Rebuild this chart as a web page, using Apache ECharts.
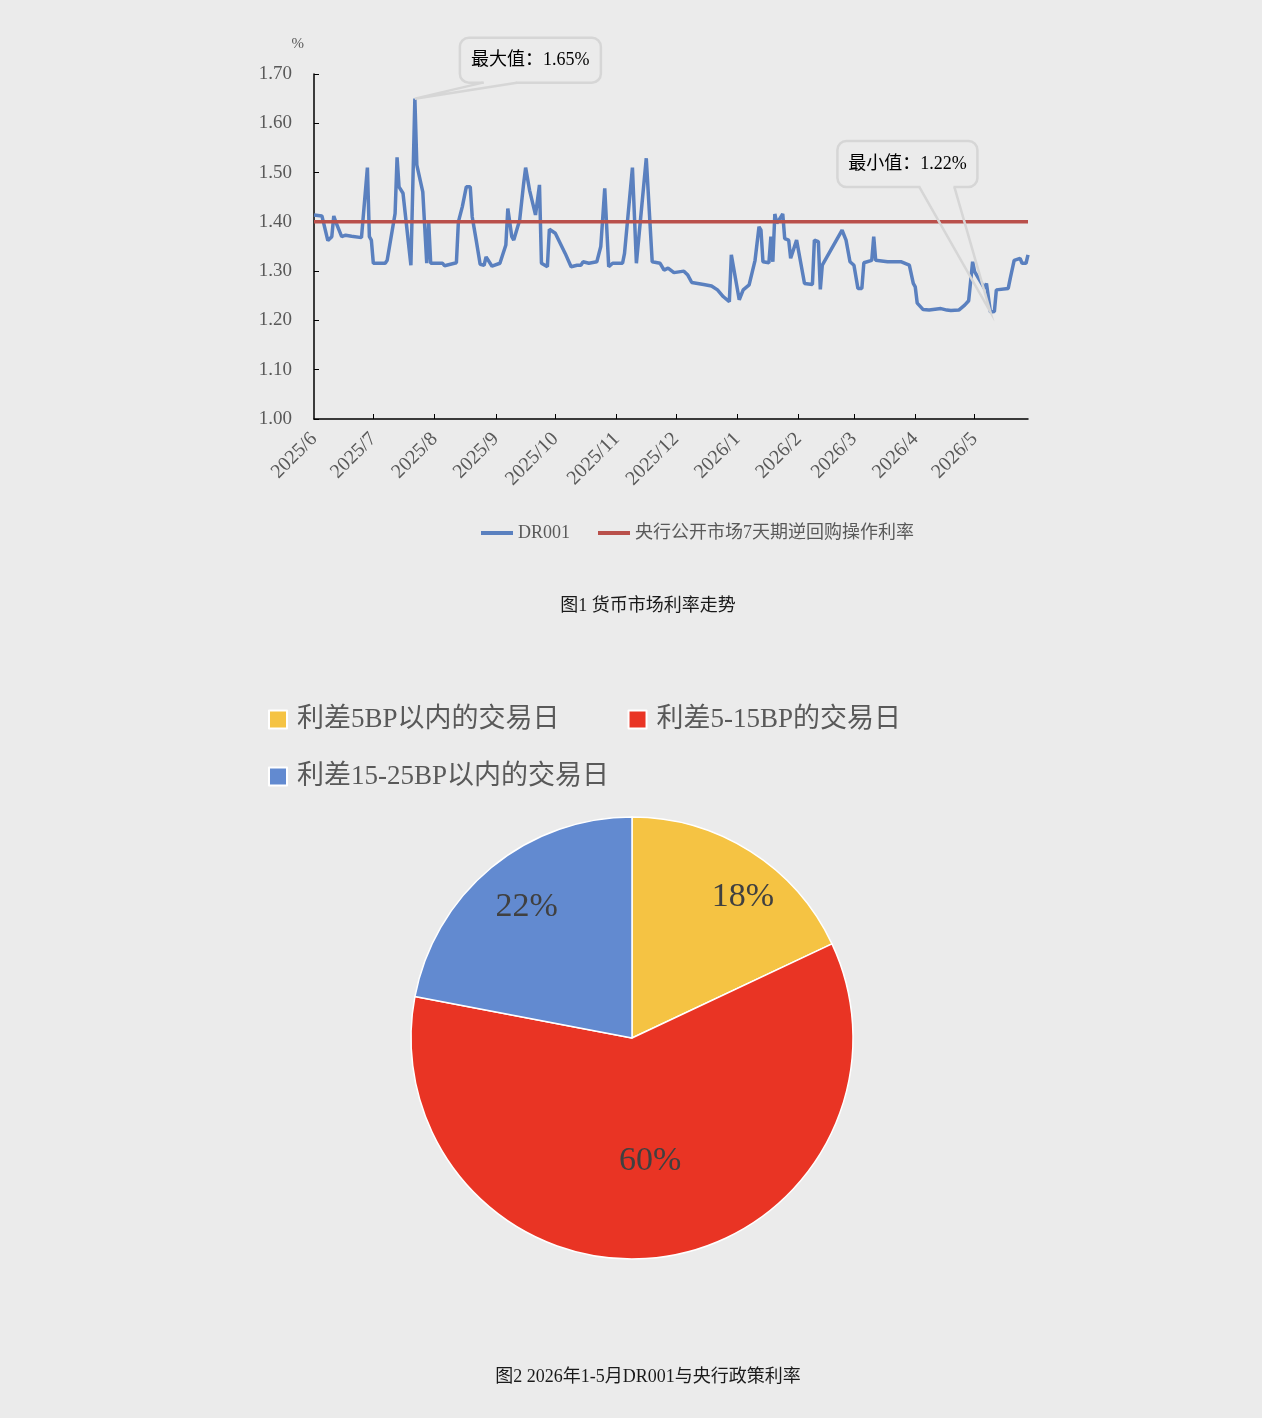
<!DOCTYPE html>
<html>
<head>
<meta charset="utf-8">
<script src="https://cdn.jsdelivr.net/npm/echarts@6/dist/echarts.min.js"></script>
<style>
  html, body { margin: 0; padding: 0; background: #ebebeb; }
  #main { width: 1262px; height: 1418px; }
</style>
</head>
<body>
<div id="main"></div>
<script>
// Fig.1: DR001 vs the 7-day reverse repo rate, Fig.2: spread share pie

const AXIS_START = '2025-06-01'
const AXIS_END = '2026-05-28'

// DR001 turning points (dates / %)
const drDates = [
  '2025-06-01', '2025-06-05', '2025-06-08', '2025-06-10', '2025-06-11', '2025-06-12', '2025-06-15', '2025-06-17',
  '2025-06-20', '2025-06-25', '2025-06-28', '2025-06-29', '2025-06-30', '2025-07-01', '2025-07-07', '2025-07-08',
  '2025-07-12', '2025-07-13', '2025-07-14', '2025-07-16', '2025-07-20', '2025-07-22', '2025-07-23', '2025-07-26',
  '2025-07-28', '2025-07-29', '2025-07-30', '2025-08-05', '2025-08-06', '2025-08-12', '2025-08-13', '2025-08-15',
  '2025-08-17', '2025-08-19', '2025-08-20', '2025-08-22', '2025-08-24', '2025-08-26', '2025-08-27', '2025-08-30',
  '2025-09-03', '2025-09-06', '2025-09-07', '2025-09-09', '2025-09-10', '2025-09-13', '2025-09-15', '2025-09-16',
  '2025-09-18', '2025-09-21', '2025-09-23', '2025-09-24', '2025-09-27', '2025-09-28', '2025-10-01', '2025-10-06',
  '2025-10-09', '2025-10-12', '2025-10-14', '2025-10-15', '2025-10-18', '2025-10-22', '2025-10-24', '2025-10-26',
  '2025-10-28', '2025-10-30', '2025-11-04', '2025-11-05', '2025-11-09', '2025-11-11', '2025-11-16', '2025-11-19',
  '2025-11-23', '2025-11-25', '2025-11-27', '2025-11-30', '2025-12-05', '2025-12-07', '2025-12-09', '2025-12-15',
  '2025-12-19', '2025-12-22', '2025-12-25', '2025-12-28', '2025-12-29', '2026-01-02', '2026-01-04', '2026-01-07',
  '2026-01-10', '2026-01-12', '2026-01-13', '2026-01-14', '2026-01-17', '2026-01-18', '2026-01-19', '2026-01-20',
  '2026-01-21', '2026-01-24', '2026-01-25', '2026-01-27', '2026-01-28', '2026-01-31', '2026-02-02', '2026-02-03',
  '2026-02-04', '2026-02-08', '2026-02-09', '2026-02-11', '2026-02-12', '2026-02-13', '2026-02-23', '2026-02-25',
  '2026-02-27', '2026-03-01', '2026-03-03', '2026-03-05', '2026-03-06', '2026-03-10', '2026-03-11', '2026-03-12',
  '2026-03-18', '2026-03-25', '2026-03-29', '2026-03-31', '2026-04-01', '2026-04-02', '2026-04-05', '2026-04-08',
  '2026-04-09', '2026-04-14', '2026-04-15', '2026-04-17', '2026-04-19', '2026-04-23', '2026-04-26', '2026-04-28',
  '2026-04-29', '2026-04-30', '2026-05-01', '2026-05-06', '2026-05-07', '2026-05-09', '2026-05-11', '2026-05-12',
  '2026-05-13', '2026-05-18', '2026-05-19', '2026-05-20', '2026-05-21', '2026-05-24', '2026-05-25', '2026-05-27',
  '2026-05-28'
]
const drValues = [
  1.414, 1.412, 1.362, 1.370, 1.412, 1.400, 1.370, 1.373,
  1.371, 1.368, 1.510, 1.370, 1.363, 1.316, 1.316, 1.322,
  1.417, 1.531, 1.471, 1.458, 1.312, 1.650, 1.515, 1.461,
  1.316, 1.400, 1.316, 1.316, 1.311, 1.317, 1.400, 1.431,
  1.471, 1.471, 1.410, 1.363, 1.314, 1.312, 1.329, 1.310,
  1.316, 1.353, 1.427, 1.370, 1.363, 1.404, 1.478, 1.510,
  1.464, 1.414, 1.475, 1.316, 1.309, 1.385, 1.377, 1.336,
  1.309, 1.312, 1.312, 1.319, 1.316, 1.319, 1.350, 1.468,
  1.309, 1.316, 1.316, 1.336, 1.510, 1.316, 1.529, 1.319,
  1.316, 1.302, 1.306, 1.297, 1.300, 1.292, 1.277, 1.273,
  1.270, 1.262, 1.248, 1.238, 1.333, 1.242, 1.262, 1.272,
  1.322, 1.390, 1.383, 1.319, 1.317, 1.370, 1.319, 1.416,
  1.397, 1.416, 1.366, 1.363, 1.326, 1.363, 1.319, 1.317,
  1.275, 1.273, 1.363, 1.360, 1.263, 1.312, 1.383, 1.363,
  1.319, 1.312, 1.265, 1.265, 1.317, 1.322, 1.370, 1.322,
  1.319, 1.319, 1.312, 1.275, 1.268, 1.235, 1.222, 1.221,
  1.224, 1.224, 1.221, 1.221, 1.220, 1.221, 1.231, 1.240,
  1.240, 1.319, 1.299, 1.265, 1.275, 1.217, 1.218, 1.262,
  1.265, 1.265, 1.285, 1.289, 1.322, 1.326, 1.316, 1.316,
  1.333
]

// policy rate held flat over the whole window
const repoDates = [AXIS_START, AXIS_END]
const repoValues = [1.40, 1.40]

const Y_MIN = 1.0
const Y_MAX = 1.7
const Y_STEP = 0.1

// pie
const pieNames = ['利差5BP以内的交易日', '利差5-15BP的交易日', '利差15-25BP以内的交易日']
const pieValues = [18, 60, 22]

const BG = '#ebebeb'
const LABEL = '#595959'
const SERIF = '"Liberation Serif", "Noto Sans CJK SC", serif'
const BLUE = '#5a80bf'
const RED = '#b9504b'
const PIE_COLORS = ['#f5c343', '#e93424', '#628ad0']
const CALLOUT_LINE = '#d6d6d6'

function dayList(start, end) {
  const out = []
  const d = new Date(start + 'T00:00:00Z')
  const e = new Date(end + 'T00:00:00Z')
  while (d <= e) {
    out.push(d.toISOString().slice(0, 10))
    d.setUTCDate(d.getUTCDate() + 1)
  }
  return out
}

const days = dayList(AXIS_START, AXIS_END)
const isMonthStart = (i, v) => v.slice(8) === '01' && i > 0

const pairs = (ds, vs) => ds.map((d, i) => [d, vs[i]])

const chart = echarts.init(document.getElementById('main'), null, { renderer: 'canvas' })

// per-slice label nudges, Excel puts them at different radii
const pieLabelOffset = [[50, -45], [4, 10], [-33, -43]]

chart.setOption({
  animation: false,
  backgroundColor: BG,
  textStyle: { fontFamily: SERIF },
  legend: [
    {
      data: ['DR001', '央行公开市场7天期逆回购操作利率'],
      left: 481,
      top: 524,
      padding: 0,
      icon: 'rect',
      itemWidth: 32,
      itemHeight: 4,
      itemGap: 28,
      textStyle: { color: LABEL, fontSize: 18, fontFamily: SERIF }
    },
    {
      data: pieNames.slice(0, 2),
      left: 268,
      top: 706,
      padding: 0,
      icon: 'rect',
      itemWidth: 18,
      itemHeight: 18,
      itemGap: 68,
      textStyle: { color: LABEL, fontSize: 27, fontFamily: SERIF, padding: [0, 0, 0, 5] }
    },
    {
      data: pieNames.slice(2),
      left: 268,
      top: 763,
      padding: 0,
      icon: 'rect',
      itemWidth: 18,
      itemHeight: 18,
      textStyle: { color: LABEL, fontSize: 27, fontFamily: SERIF, padding: [0, 0, 0, 5] }
    }
  ],
  grid: { left: 314, right: 234, top: 74, height: 345, containLabel: false },
  xAxis: {
    type: 'category',
    data: days,
    boundaryGap: false,
    axisLine: { lineStyle: { color: '#000', width: 1.5 } },
    axisTick: { inside: true, length: 5, interval: isMonthStart, lineStyle: { color: '#000' } },
    axisLabel: {
      interval: (i, v) => v.slice(8) === '01',
      rotate: 45,
      margin: 17,
      color: LABEL,
      fontSize: 20,
      fontFamily: SERIF,
      formatter: v => v.slice(0, 4) + '/' + Number(v.slice(5, 7))
    },
    splitLine: { show: false }
  },
  yAxis: {
    type: 'value',
    min: Y_MIN,
    max: Y_MAX,
    interval: Y_STEP,
    name: '%',
    nameLocation: 'end',
    nameGap: 22,
    nameTextStyle: { color: LABEL, fontSize: 15, align: 'right', padding: [0, 10, 0, 0] },
    axisLine: { show: true, lineStyle: { color: '#000', width: 1.5 } },
    axisTick: { show: true, inside: true, length: 5, lineStyle: { color: '#000' } },
    axisLabel: { color: LABEL, fontSize: 19, margin: 22, fontFamily: SERIF, formatter: v => v.toFixed(2) },
    splitLine: { show: false }
  },
  series: [
    {
      name: 'DR001',
      type: 'line',
      data: pairs(drDates, drValues),
      showSymbol: false,
      symbol: 'none',
      color: BLUE,
      lineStyle: { width: 3.5, color: BLUE },
      z: 2
    },
    {
      name: '央行公开市场7天期逆回购操作利率',
      type: 'line',
      data: pairs(repoDates, repoValues),
      showSymbol: false,
      symbol: 'none',
      color: RED,
      lineStyle: { width: 3.5, color: RED },
      z: 3
    },
    {
      name: 'spread',
      type: 'pie',
      center: [632, 1038],
      radius: 221,
      startAngle: 90,
      clockwise: true,
      color: PIE_COLORS,
      itemStyle: { borderColor: '#fff', borderWidth: 1.5 },
      emphasis: { disabled: true },
      labelLine: { show: false },
      label: {
        show: true,
        position: 'inside',
        formatter: '{c}%',
        fontSize: 34,
        color: '#404040',
        fontFamily: SERIF
      },
      data: pieNames.map((n, i) => ({
        name: n,
        value: pieValues[i],
        label: { offset: pieLabelOffset[i] }
      }))
    }
  ]
})

// callout boxes for max / min of DR001, placed from the data point pixel
function callout(p, box, base, text) {
  const bx = p[0] + box[0], by = p[1] + box[1]
  const baseY = by + box[3]
  const l = p[0] + base[0], r = p[0] + base[1]
  return [
    {
      type: 'rect', z: 100,
      shape: { x: bx, y: by, width: box[2], height: box[3], r: 9 },
      style: { fill: BG, stroke: CALLOUT_LINE, lineWidth: 2.5 }
    },
    {
      type: 'rect', z: 101,
      shape: { x: l + 1, y: baseY - 3, width: r - l - 2, height: 5 },
      style: { fill: BG }
    },
    {
      type: 'polyline', z: 102,
      shape: { points: [[l, baseY], p, [r, baseY]] },
      style: { stroke: CALLOUT_LINE, lineWidth: 2.5, fill: null }
    },
    {
      type: 'text', z: 103,
      x: bx + box[2] / 2,
      y: by + box[3] / 2,
      style: {
        text, fill: '#000', fontSize: 18, fontFamily: SERIF,
        align: 'center', verticalAlign: 'middle', textAlign: 'center', textVerticalAlign: 'middle'
      }
    }
  ]
}

const maxIdx = drValues.indexOf(Math.max(...drValues))
const minIdx = drValues.indexOf(Math.min(...drValues))
const pMax = chart.convertToPixel({ gridIndex: 0 }, [days.indexOf(drDates[maxIdx]), drValues[maxIdx]])
const pMin = chart.convertToPixel({ gridIndex: 0 }, [days.indexOf(drDates[minIdx]), drValues[minIdx]])

chart.setOption({
  graphic: [
    ...callout(pMax, [45, -61, 141, 45], [68, 102], '最大值：' + drValues[maxIdx].toFixed(2) + '%'),
    ...callout(pMin, [-153, -171, 140, 46], [-71, -36], '最小值：' + drValues[minIdx].toFixed(2) + '%'),
    {
      type: 'text', x: 648, y: 606,
      style: { text: '图1 货币市场利率走势', fill: '#1a1a1a', fontSize: 18, fontFamily: SERIF, align: 'center', verticalAlign: 'middle', textAlign: 'center', textVerticalAlign: 'middle' }
    },
    {
      type: 'text', x: 648, y: 1377,
      style: { text: '图2 2026年1-5月DR001与央行政策利率', fill: '#1a1a1a', fontSize: 18, fontFamily: SERIF, align: 'center', verticalAlign: 'middle', textAlign: 'center', textVerticalAlign: 'middle' }
    }
  ]
})
</script>
</body>
</html>
